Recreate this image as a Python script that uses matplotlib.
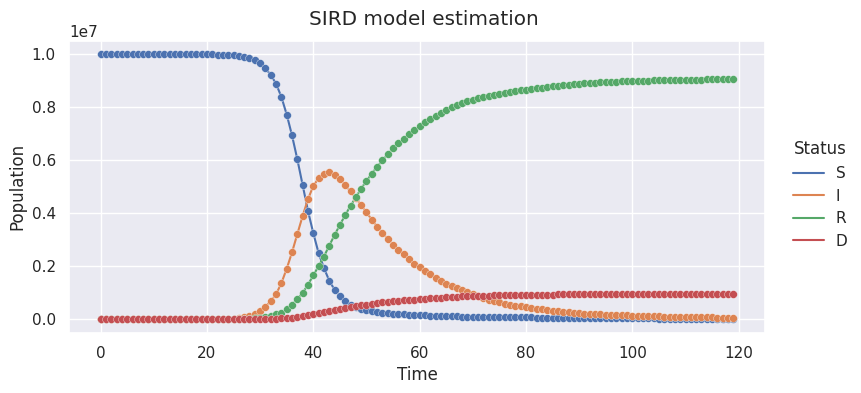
import matplotlib
matplotlib.use("Agg")
import matplotlib.pyplot as plt
import numpy as np
import seaborn as sns

# population in units of 1e7 (days 0..119)
N = 1e7
days = np.arange(120)

susceptible = [1.0] * 20 + [
    0.999, 0.999, 0.998, 0.998, 0.997, 0.995, 0.993, 0.989, 0.984, 0.977,
    0.965, 0.946, 0.921, 0.888, 0.838, 0.772, 0.693, 0.603, 0.506, 0.409,
    0.325, 0.250, 0.194, 0.146, 0.112, 0.087, 0.069, 0.056, 0.047, 0.041,
    0.036, 0.032, 0.029, 0.026, 0.024, 0.022, 0.020, 0.019, 0.018, 0.017,
    0.016, 0.015, 0.014, 0.014, 0.013, 0.013, 0.012, 0.012, 0.011, 0.011,
    0.011, 0.010, 0.010, 0.010, 0.009, 0.009, 0.009, 0.009, 0.008, 0.008,
    0.008, 0.008, 0.007, 0.007, 0.007, 0.007, 0.006, 0.006, 0.006, 0.006,
    0.005, 0.005, 0.005, 0.005, 0.005, 0.005, 0.004, 0.004, 0.004, 0.004,
    0.004, 0.004, 0.004, 0.004, 0.004, 0.003, 0.003, 0.003, 0.003, 0.003,
    0.003, 0.003, 0.003, 0.003, 0.002, 0.002, 0.002, 0.002, 0.002, 0.002,
]

infected = [0.0] * 20 + [
    0.0005, 0.0007, 0.001, 0.0015, 0.002, 0.003, 0.005, 0.008, 0.013, 0.020,
    0.031, 0.048, 0.069, 0.095, 0.137, 0.191, 0.253, 0.322, 0.390, 0.453,
    0.503, 0.532, 0.549, 0.555, 0.546, 0.528, 0.507, 0.482, 0.457, 0.431,
    0.403, 0.376, 0.350, 0.326, 0.303, 0.281, 0.262, 0.245, 0.226, 0.210,
    0.196, 0.181, 0.170, 0.156, 0.145, 0.135, 0.126, 0.117, 0.110, 0.102,
    0.095, 0.088, 0.081, 0.075, 0.069, 0.064, 0.060, 0.056, 0.052, 0.049,
    0.046, 0.043, 0.040, 0.038, 0.035, 0.033, 0.031, 0.029, 0.027, 0.025,
    0.024, 0.022, 0.021, 0.020, 0.019, 0.018, 0.017, 0.016, 0.015, 0.015,
    0.014, 0.014, 0.013, 0.013, 0.012, 0.012, 0.011, 0.011, 0.010, 0.010,
    0.009, 0.009, 0.009, 0.008, 0.008, 0.008, 0.007, 0.007, 0.007, 0.006,
]

recovered = [0.0] * 25 + [
    0.0005, 0.001, 0.001, 0.002, 0.004,
    0.006, 0.009, 0.013, 0.019, 0.026, 0.039, 0.056, 0.076, 0.100, 0.131,
    0.166, 0.201, 0.237, 0.278, 0.318, 0.356, 0.393, 0.428, 0.460, 0.493,
    0.522, 0.549, 0.576, 0.599, 0.622, 0.644, 0.663, 0.680, 0.698, 0.713,
    0.728, 0.742, 0.755, 0.767, 0.778, 0.789, 0.799, 0.807, 0.815, 0.822,
    0.828, 0.834, 0.839, 0.843, 0.847, 0.851, 0.854, 0.857, 0.860, 0.863,
    0.866, 0.868, 0.871, 0.873, 0.876, 0.878, 0.880, 0.882, 0.884, 0.886,
    0.888, 0.889, 0.891, 0.892, 0.893, 0.894, 0.895, 0.896, 0.897, 0.898,
    0.899, 0.899, 0.900, 0.900, 0.901, 0.901, 0.901, 0.902, 0.902, 0.902,
    0.903, 0.903, 0.903, 0.903, 0.904, 0.904, 0.904, 0.904, 0.905, 0.905,
]

dead = [0.0] * 28 + [
    0.0005, 0.0007,
    0.001, 0.0015, 0.002, 0.003, 0.004, 0.005, 0.007, 0.009, 0.012, 0.015,
    0.019, 0.023, 0.027, 0.031, 0.035, 0.039, 0.043, 0.047, 0.050, 0.053,
    0.056, 0.059, 0.062, 0.064, 0.066, 0.068, 0.070, 0.072, 0.074, 0.075,
    0.077, 0.078, 0.080, 0.081, 0.082, 0.084, 0.085, 0.086, 0.087, 0.088,
    0.088, 0.089, 0.090, 0.090, 0.091, 0.091, 0.091, 0.092, 0.092, 0.092,
    0.093, 0.093, 0.093, 0.093, 0.093, 0.093, 0.094, 0.094, 0.094, 0.094,
] + [0.094] * 30

status = ["S", "I", "R", "D"]
series = [susceptible, infected, recovered, dead]

sns.set_theme()
colors = sns.color_palette()[:4]

fig = plt.figure(figsize=(8.61, 3.93), dpi=100)
ax = fig.add_axes([0.0801, 0.1534, 0.8084, 0.743])

handles = []
for name, vals, c in zip(status, series, colors):
    y = np.array(vals) * N
    line, = ax.plot(days, y, color=c, lw=1.5, label=name)
    handles.append(line)
for vals, c in zip(series, colors):
    y = np.array(vals) * N
    ax.scatter(days, y, s=32, color=c, edgecolor="white", linewidth=0.25, zorder=3)

ax.set_xlabel("Time")
ax.set_ylabel("Population")
ax.set_xticks([0, 20, 40, 60, 80, 100, 120])

fig.suptitle("SIRD model estimation", x=424 / 861, y=0.975)

leg = fig.legend(handles=handles, title="Status", loc="center left",
                 bbox_to_anchor=(0.905, 0.505), frameon=False)

fig.savefig("out.png", dpi=100)
